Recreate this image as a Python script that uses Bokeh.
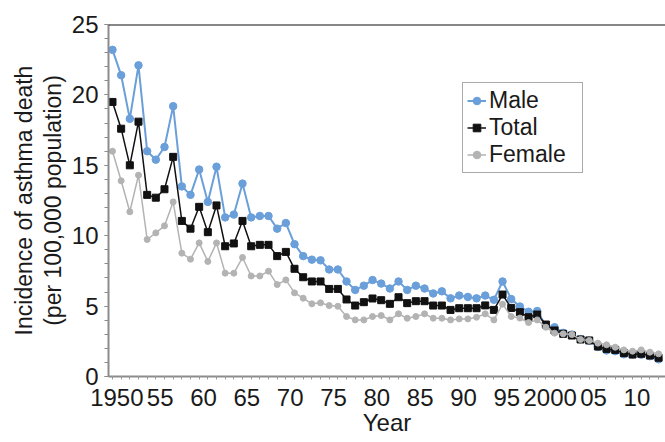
from bokeh.plotting import figure
from bokeh.embed import file_html
from bokeh.resources import INLINE
from bokeh.models import FixedTicker, Legend, LegendItem, Span, Range1d

years = list(range(1950, 2014))

male = [23.2, 21.4, 18.3, 22.1, 16.0, 15.4, 16.3, 19.2, 13.5, 12.9,
        14.7, 12.4, 14.9, 11.3, 11.5, 13.7, 11.3, 11.4, 11.4, 10.5,
        10.9, 9.4, 8.55, 8.3, 8.25, 7.6, 7.6, 6.75, 6.15, 6.45,
        6.85, 6.6, 6.25, 6.75, 6.15, 6.45, 6.25, 5.9, 6.05, 5.55,
        5.75, 5.65, 5.55, 5.75, 5.45, 6.75, 5.5, 4.97, 4.6, 4.65,
        3.6, 3.5, 3.1, 2.98, 2.65, 2.55, 2.1, 1.85, 1.8, 1.58,
        1.56, 1.55, 1.44, 1.22]

total = [19.5, 17.6, 15.0, 18.1, 12.9, 12.7, 13.3, 15.6, 11.05, 10.5,
         12.05, 10.25, 12.15, 9.25, 9.45, 11.05, 9.25, 9.35, 9.35, 8.55,
         8.85, 7.65, 7.05, 6.75, 6.75, 6.22, 6.22, 5.47, 5.04, 5.28,
         5.54, 5.42, 5.16, 5.63, 5.21, 5.35, 5.35, 5.04, 5.04, 4.73,
         4.85, 4.85, 4.85, 5.05, 4.73, 5.82, 4.87, 4.57, 4.21, 4.4,
         3.69, 3.27, 3.03, 2.91, 2.63, 2.56, 2.13, 1.96, 1.89, 1.66,
         1.56, 1.61, 1.49, 1.33]

female = [16.0, 13.9, 11.7, 14.3, 9.73, 10.2, 10.7, 12.4, 8.76, 8.33,
          9.49, 8.17, 9.49, 7.34, 7.34, 8.45, 7.14, 7.14, 7.48, 6.53,
          6.86, 5.94, 5.56, 5.16, 5.23, 5.04, 4.99, 4.26, 4.02, 4.02,
          4.26, 4.33, 4.02, 4.45, 4.14, 4.26, 4.45, 4.14, 4.14, 4.02,
          4.09, 4.09, 4.21, 4.45, 4.02, 5.14, 4.26, 4.15, 3.83, 4.02,
          3.5, 3.08, 3.03, 2.98, 2.63, 2.56, 2.37, 2.25, 2.08, 1.89,
          1.8, 1.89, 1.73, 1.61]

x_label_years = [1950, 1955, 1960, 1965, 1970, 1975, 1980, 1985, 1990, 1995, 2000, 2005, 2010]
x_labels = ["1950", "55", "60", "65", "70", "75", "80", "85", "90", "95", "2000", "05", "10"]
y_ticks = [0, 5, 10, 15, 20, 25]

FONT = "Liberation Sans"
TXT = "#1a1a1a"

X0, X1 = 1949.54, 2013.8

p = figure(width=665, height=442, output_backend="svg", toolbar_location=None,
           x_range=Range1d(X0, X1), y_range=Range1d(0, 25),
           min_border_left=108, min_border_right=0, min_border_top=24, min_border_bottom=66)
p.background_fill_color = "white"
p.border_fill_color = "white"
p.outline_line_color = None
p.xgrid.visible = False
p.ygrid.visible = False

# x axis
xa = p.xaxis[0]
xa.ticker = FixedTicker(ticks=[y + 0.5 for y in x_label_years], minor_ticks=years)
xa.major_label_overrides = {y + 0.5: lab for y, lab in zip(x_label_years, x_labels)}
xa.major_tick_out = 0
xa.major_tick_in = 0
xa.minor_tick_out = 3
xa.minor_tick_in = 0
xa.minor_tick_line_color = "#9a9a9a"
xa.axis_line_color = "#8c8c8c"
xa.axis_line_width = 2
xa.major_label_text_font = FONT
xa.major_label_text_font_size = "24px"
xa.major_label_text_color = TXT
xa.major_label_standoff = 9
xa.axis_label = "Year"
xa.axis_label_text_font = FONT
xa.axis_label_text_font_size = "24px"
xa.axis_label_text_font_style = "normal"
xa.axis_label_text_color = TXT
xa.axis_label_standoff = 0

# y axis
ya = p.yaxis[0]
ya.ticker = FixedTicker(ticks=y_ticks, minor_ticks=list(range(0, 26)))
ya.major_tick_out = 4
ya.major_tick_in = 0
ya.minor_tick_out = 4
ya.minor_tick_in = 0
ya.major_tick_line_color = "#8c8c8c"
ya.minor_tick_line_color = "#8c8c8c"
ya.axis_line_color = "#8c8c8c"
ya.axis_line_width = 2
ya.major_label_text_font = FONT
ya.major_label_text_font_size = "24px"
ya.major_label_text_color = TXT
ya.major_label_standoff = 6
ya.axis_label = "Incidence of asthma death\n(per 100,000 population)"
ya.axis_label_text_font = FONT
ya.axis_label_text_font_size = "23px"
ya.axis_label_text_font_style = "normal"
ya.axis_label_text_color = TXT
ya.axis_label_text_line_height = 1.1
ya.axis_label_standoff = 3

p.add_layout(Span(location=25, dimension="width", line_color="#111111", line_width=2))

MALE_C = "#6a9fda"
TOTAL_C = "#111111"
FEMALE_C = "#b3b3b3"

lm = p.line(years, male, line_color=MALE_C, line_width=2)
sm = p.scatter(years, male, marker="circle", size=7.5, fill_color=MALE_C, line_color=MALE_C)
lt = p.line(years, total, line_color=TOTAL_C, line_width=1.5)
st = p.scatter(years, total, marker="square", size=7, fill_color=TOTAL_C, line_color=TOTAL_C)
lf = p.line(years, female, line_color=FEMALE_C, line_width=1.5)
sf = p.scatter(years, female, marker="circle", size=6, fill_color=FEMALE_C, line_color=FEMALE_C)

legend = Legend(items=[LegendItem(label="Male", renderers=[lm, sm]),
                       LegendItem(label="Total", renderers=[lt, st]),
                       LegendItem(label="Female", renderers=[lf, sf])],
                location=(354, 203))
legend.border_line_color = "#555555"
legend.border_line_width = 1
legend.background_fill_color = "white"
legend.background_fill_alpha = 1
legend.label_text_font = FONT
legend.label_text_font_size = "23px"
legend.label_text_color = TXT
legend.glyph_width = 19
legend.glyph_height = 25
legend.label_height = 25
legend.label_width = 89
legend.label_standoff = 3
legend.padding = 4
legend.spacing = 0
legend.margin = 0
p.add_layout(legend)

open("out.html", "w").write(file_html(p, INLINE))
